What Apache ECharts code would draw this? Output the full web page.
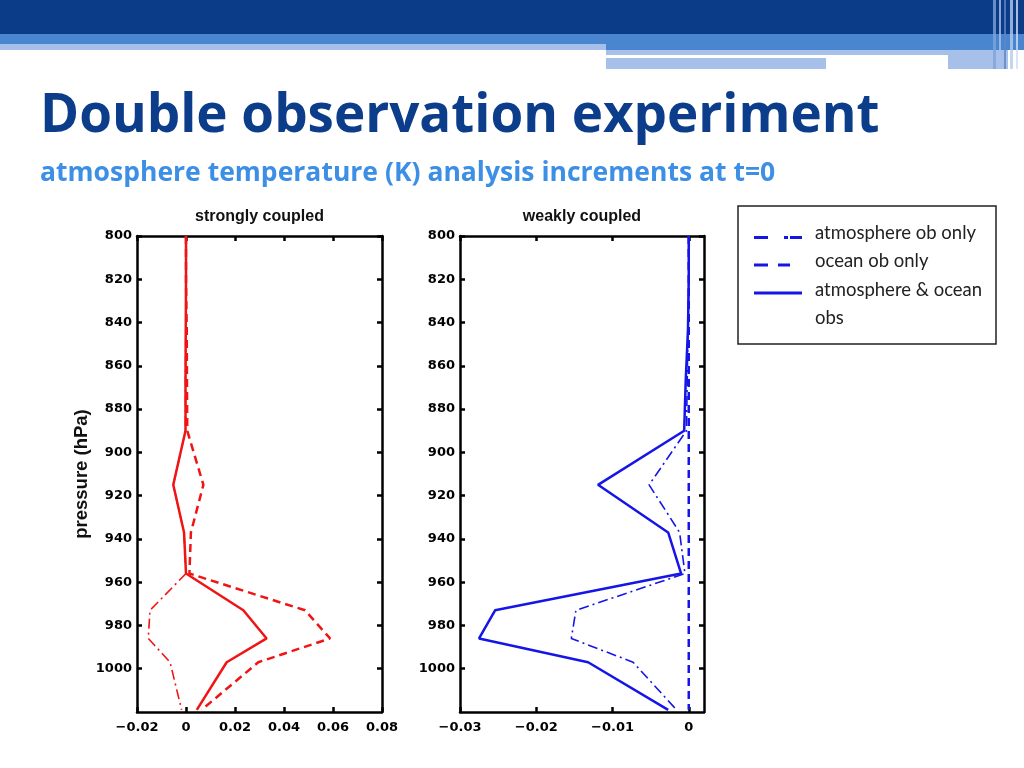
<!DOCTYPE html>
<html>
<head>
<meta charset="utf-8">
<script src="https://cdn.jsdelivr.net/npm/echarts@6/dist/echarts.min.js"></script>
<style>
  html, body { margin: 0; padding: 0; background: #ffffff; }
  #chart { width: 1024px; height: 768px; }
</style>
</head>
<body>
<div id="chart"></div>
<script>
// ---- data ----
var pressureLevels   = [800, 820, 843, 867, 890, 915, 937, 956, 973, 986, 997, 1019];
// strongly coupled (red)
var strongAtmOnly    = [0, 0, -0.0001, -0.0002, -0.0002, -0.0052, -0.0008, 0.0000, -0.0147, -0.0154, -0.0065, -0.0018];
var strongOceanOnly  = [0, 0, 0.0003, 0.0004, 0.0005, 0.0071, 0.0020, 0.0014, 0.0486, 0.0588, 0.0295, 0.0064];
var strongBoth       = [0, 0, -0.0001, -0.0002, -0.0002, -0.0052, -0.0008, 0.0000, 0.0234, 0.0329, 0.0166, 0.0044];
// weakly coupled (blue)
var weakAtmOnly      = [0, 0, -0.0001, -0.0002, -0.0003, -0.0052, -0.0012, -0.0005, -0.0148, -0.0154, -0.0073, -0.0016];
var weakOceanOnly    = [0, 0, 0, 0, 0, 0, 0, 0, 0, 0, 0, 0];
var weakBoth         = [0, 0, -0.0001, -0.0004, -0.0006, -0.0119, -0.0027, -0.0010, -0.0254, -0.0275, -0.0132, -0.0027];

var panelTitles  = ['strongly coupled', 'weakly coupled'];
var legendLabels = ['atmosphere ob only', 'ocean ob only', 'atmosphere & ocean', 'obs'];
var yTickValues  = [800, 820, 840, 860, 880, 900, 920, 940, 960, 980, 1000];
var xTicksStrong = [-0.02, 0, 0.02, 0.04, 0.06, 0.08];
var xTicksWeak   = [-0.03, -0.02, -0.01, 0];

function pairs(xs) { return xs.map(function (v, i) { return [v, pressureLevels[i]]; }); }

var RED = '#f01414', BLUE = '#1515e8';
var TICK_FONT = 'DejaVu Sans';
function minusFmt(v) {
  var s = String(Math.round(v * 1e6) / 1e6);
  return s.replace('-', '\u2212');
}
function plainFmt(v) { return String(Math.round(v)); }
function xAx(grid, pos, min, max, interval, ticks, showLabel) {
  return {
    type: 'value', gridIndex: grid, position: pos, min: min, max: max, interval: interval,
    axisLine: { show: true, onZero: false, lineStyle: { color: '#000', width: 2.5 } },
    axisTick: { show: true, inside: true, length: 5, lineStyle: { color: '#000', width: 2.5 }, customValues: ticks },
    axisLabel: { show: showLabel, margin: 9, formatter: minusFmt, customValues: ticks,
                 fontFamily: TICK_FONT, fontWeight: 'bold', fontSize: 13, color: '#000' },
    splitLine: { show: false }
  };
}
function yAx(grid, pos, showLabel, name) {
  var a = {
    type: 'value', gridIndex: grid, position: pos, inverse: true, min: 800, max: 1020, interval: 20,
    axisLine: { show: true, onZero: false, lineStyle: { color: '#000', width: 2.5 } },
    axisTick: { show: true, inside: true, length: 5, lineStyle: { color: '#000', width: 2.5 }, customValues: yTickValues },
    axisLabel: { show: showLabel, margin: 5, customValues: yTickValues, formatter: plainFmt,
                 fontFamily: TICK_FONT, fontWeight: 'bold', fontSize: 13, color: '#000' },
    splitLine: { show: false }
  };
  if (name) {
    a.name = name; a.nameLocation = 'middle'; a.nameRotate = 90; a.nameGap = 46;
    a.nameTextStyle = { fontFamily: 'Liberation Sans', fontWeight: 'bold', fontSize: 18.5, color: '#111' };
  }
  return a;
}
function ser(xi, yi, values, color, kind) {
  var ls = { color: color };
  if (kind === 'solid') { ls.width = 2.5; ls.type = 'solid'; }
  else if (kind === 'dashed') { ls.width = 2.5; ls.type = [8, 5]; }
  else { ls.width = 1.6; ls.type = [10, 4, 2, 4]; }
  return { type: 'line', xAxisIndex: xi, yAxisIndex: yi, data: pairs(values), symbol: 'none',
           lineStyle: ls, itemStyle: { color: color }, silent: true, animation: false, z: 3 };
}

var HDR_DARK = '#0a3c87', HDR_MID = '#4a86d0', HDR_PALE = '#a7c0e9';
var LEG_FONT = '18.5px Lato';
var graphics = [
  { type: 'rect', shape: { x: 0, y: 0, width: 1024, height: 34 }, style: { fill: HDR_DARK } },
  { type: 'rect', shape: { x: 0, y: 34, width: 606, height: 10 }, style: { fill: HDR_MID } },
  { type: 'rect', shape: { x: 606, y: 34, width: 418, height: 16 }, style: { fill: HDR_MID } },
  { type: 'rect', shape: { x: 0, y: 44, width: 606, height: 6 }, style: { fill: HDR_PALE } },
  { type: 'rect', shape: { x: 606, y: 50, width: 342, height: 5 }, style: { fill: HDR_PALE } },
  { type: 'rect', shape: { x: 606, y: 58, width: 220, height: 11 }, style: { fill: HDR_PALE } },
  { type: 'rect', shape: { x: 948, y: 50, width: 60, height: 19 }, style: { fill: HDR_PALE } },
  { type: 'rect', shape: { x: 993, y: 0, width: 3, height: 69 }, style: { fill: '#7fa3d8', opacity: 0.8 } },
  { type: 'rect', shape: { x: 999, y: 0, width: 2, height: 69 }, style: { fill: '#a9c1ea', opacity: 0.8 } },
  { type: 'rect', shape: { x: 1004, y: 0, width: 2, height: 69 }, style: { fill: '#5d86c6', opacity: 0.8 } },
  { type: 'rect', shape: { x: 1010, y: 0, width: 3, height: 69 }, style: { fill: '#b5cbee', opacity: 0.8 } },
  { type: 'rect', shape: { x: 1016, y: 0, width: 2, height: 69 }, style: { fill: '#d0def4', opacity: 0.8 } },
  { type: 'text', x: 40, y: 90, scaleX: 0.98,
    style: { text: 'Double observation experiment', font: 'bold 54px "Open Sans"', fill: '#0c3d8b',
             textVerticalAlign: 'top' } },
  { type: 'text', x: 40, y: 161, scaleX: 1.02,
    style: { text: 'atmosphere temperature (K) analysis increments at t=0', font: 'bold 26px "Open Sans"', fill: '#3d8fe6',
             textVerticalAlign: 'top' } },
  { type: 'text', x: 259.5, y: 217, style: { text: panelTitles[0], font: 'bold 16px "Liberation Sans"', fill: '#111',
             textAlign: 'center', textVerticalAlign: 'middle' } },
  { type: 'text', x: 582, y: 217, style: { text: panelTitles[1], font: 'bold 16px "Liberation Sans"', fill: '#111',
             textAlign: 'center', textVerticalAlign: 'middle' } },
  // legend box
  { type: 'rect', shape: { x: 738, y: 206, width: 258, height: 138 }, style: { fill: '#fff', stroke: '#222', lineWidth: 1.5 } },
  { type: 'line', shape: { x1: 754, y1: 237.5, x2: 768, y2: 237.5 }, style: { stroke: BLUE, lineWidth: 3 } },
  { type: 'line', shape: { x1: 784, y1: 237.5, x2: 788, y2: 237.5 }, style: { stroke: BLUE, lineWidth: 3 } },
  { type: 'line', shape: { x1: 790, y1: 237.5, x2: 802, y2: 237.5 }, style: { stroke: BLUE, lineWidth: 3 } },
  { type: 'line', shape: { x1: 754, y1: 265, x2: 768, y2: 265 }, style: { stroke: BLUE, lineWidth: 3 } },
  { type: 'line', shape: { x1: 778, y1: 265, x2: 790, y2: 265 }, style: { stroke: BLUE, lineWidth: 3 } },
  { type: 'line', shape: { x1: 754, y1: 293, x2: 802, y2: 293 }, style: { stroke: BLUE, lineWidth: 3 } },
  { type: 'text', x: 815, y: 233, style: { text: legendLabels[0], font: LEG_FONT, fill: '#222', textVerticalAlign: 'middle' } },
  { type: 'text', x: 815, y: 261.5, style: { text: legendLabels[1], font: LEG_FONT, fill: '#222', textVerticalAlign: 'middle' } },
  { type: 'text', x: 815, y: 290, style: { text: legendLabels[2], font: LEG_FONT, fill: '#222', textVerticalAlign: 'middle' } },
  { type: 'text', x: 815, y: 318, style: { text: legendLabels[3], font: LEG_FONT, fill: '#222', textVerticalAlign: 'middle' } }
];

var chart = echarts.init(document.getElementById('chart'), null, { renderer: 'canvas' });
chart.setOption({
  animation: false,
  backgroundColor: '#ffffff',
  grid: [
    { left: 137, top: 236, width: 245, height: 476 },
    { left: 460, top: 236, width: 244, height: 476 }
  ],
  xAxis: [
    xAx(0, 'bottom', -0.02, 0.08, 0.02, xTicksStrong, true),
    xAx(0, 'top', -0.02, 0.08, 0.02, xTicksStrong, false),
    xAx(1, 'bottom', -0.03, 0.002, 0.01, xTicksWeak, true),
    xAx(1, 'top', -0.03, 0.002, 0.01, xTicksWeak, false)
  ],
  yAxis: [
    yAx(0, 'left', true, 'pressure (hPa)'),
    yAx(0, 'right', false),
    yAx(1, 'left', true),
    yAx(1, 'right', false)
  ],
  series: [
    ser(0, 0, strongAtmOnly, RED, 'dashdot'),
    ser(0, 0, strongOceanOnly, RED, 'dashed'),
    ser(0, 0, strongBoth, RED, 'solid'),
    ser(2, 2, weakAtmOnly, BLUE, 'dashdot'),
    ser(2, 2, weakOceanOnly, BLUE, 'dashed'),
    ser(2, 2, weakBoth, BLUE, 'solid')
  ],
  graphic: graphics
});
</script>
</body>
</html>
